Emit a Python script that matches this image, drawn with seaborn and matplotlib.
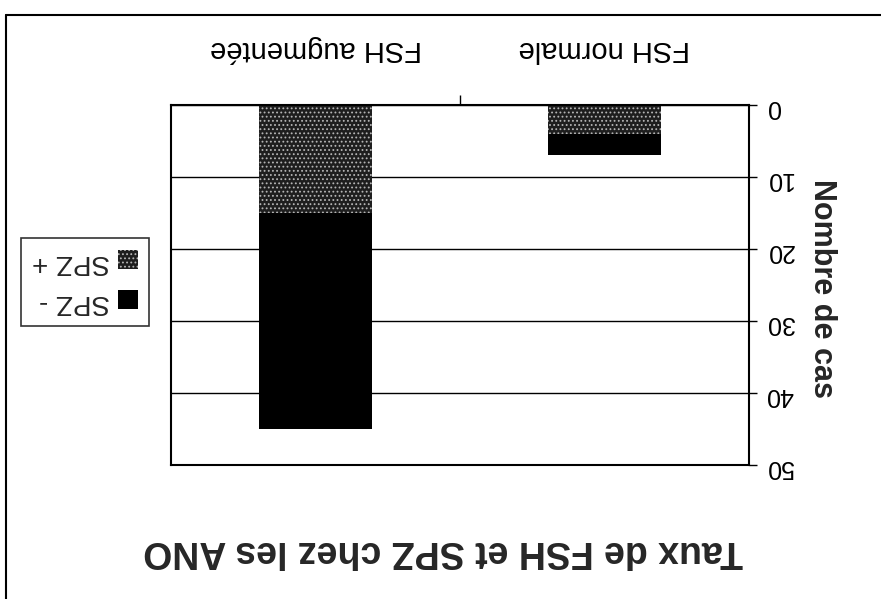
import matplotlib
matplotlib.use("Agg")
import matplotlib.pyplot as plt
from matplotlib.lines import Line2D
from matplotlib.patches import Patch
import seaborn as sns
import pandas as pd

# Data: number of cases by FSH level, split by presence of spermatozoa
categories = ["FSH normale", "FSH augmentée"]
spz_plus = [4, 15]
spz_minus = [3, 30]
y_ticks = [0, 10, 20, 30, 40, 50]
title = "Taux de FSH et SPZ chez les ANO"
y_label = "Nombre de cas"
legend_labels = ["SPZ +", "SPZ -"]

sns.set_theme(style="white")
plt.rcParams["font.family"] = ["Liberation Sans", "DejaVu Sans"]
plt.rcParams["hatch.linewidth"] = 0.8

SPECKLE = "#b5b5b5"
GREY_FACE = "#1e1e1e"

df = pd.DataFrame({
    "cat": categories,
    "plus": spz_plus,
    "total": [p + m for p, m in zip(spz_plus, spz_minus)],
})

W, H = 881, 599
fig = plt.figure(figsize=(W / 100, H / 100), dpi=100)
ax = fig.add_axes([171 / W, 1 - 465 / H, 578 / W, 360 / H])

# stacked columns: SPZ - on top of SPZ +
sns.barplot(data=df, x="cat", y="total", order=categories, color="black",
            width=0.39, saturation=1, ax=ax, linewidth=0)
n_first = len(ax.patches)
sns.barplot(data=df, x="cat", y="plus", order=categories, color=GREY_FACE,
            width=0.39, saturation=1, ax=ax, hatch="....", linewidth=0)
for p in ax.patches[n_first:]:
    p.set_edgecolor(SPECKLE)
    if hasattr(p, "set_hatchcolor"):
        p.set_hatchcolor(SPECKLE)

# the whole chart is shown turned upside down
ax.set_ylim(50, 0)
ax.set_xlim(1.5, -0.5)

ax.yaxis.tick_right()
ax.set_yticks(y_ticks)
ax.set_yticklabels([str(t) for t in y_ticks], rotation=180, fontsize=18)
ax.tick_params(axis="y", direction="out", length=6, width=1, color="black",
               pad=6, labelcolor="black", right=True, left=False)

ax.xaxis.tick_top()
ax.set_xticks(range(len(categories)))
ax.set_xticklabels(categories, rotation=180, fontsize=21)
ax.set_xticks([0.5], minor=True)
ax.tick_params(axis="x", which="major", length=0, pad=30, labelcolor="black")
ax.tick_params(axis="x", which="minor", direction="out", length=7, width=1,
               color="black", top=True, bottom=False)
ax.set_xlabel("")

ax.yaxis.grid(True, color="black", linewidth=1)
ax.set_axisbelow(True)
for s in ax.spines.values():
    s.set_visible(True)
    s.set_color("black")
    s.set_linewidth(1.5)

ax.set_ylabel(y_label, rotation=270, fontsize=22, fontweight="bold",
              ha="center", va="center")
ax.yaxis.set_label_position("right")
ax.yaxis.set_label_coords(1.152, 0.49)

fig.text(0.503, 1 - 551 / H, title, rotation=180, ha="center", va="center",
         fontsize=27, fontweight="bold")

handles = [
    Patch(facecolor=GREY_FACE, edgecolor=SPECKLE, hatch="....", linewidth=0),
    Patch(facecolor="black", edgecolor="black", linewidth=0),
]
leg = fig.legend(handles, legend_labels, loc="center",
                 bbox_to_anchor=(85 / W, 1 - 282 / H), markerfirst=False,
                 frameon=True, fancybox=False, fontsize=20,
                 handlelength=0.7, handleheight=0.7, handletextpad=0.3,
                 borderpad=0.4, labelspacing=0.5)
leg.get_frame().set_edgecolor("black")
leg.get_frame().set_linewidth(1.2)
for t in leg.get_texts():
    t.set_rotation(180)

# outer frame of the chart area
fig.add_artist(Line2D([6 / W, 6 / W], [0, 1 - 15 / H], transform=fig.transFigure,
                      color="black", linewidth=1.5))
fig.add_artist(Line2D([6 / W, 1], [1 - 15 / H, 1 - 15 / H], transform=fig.transFigure,
                      color="black", linewidth=1.5))

fig.savefig("out.png", dpi=100, facecolor="white")
